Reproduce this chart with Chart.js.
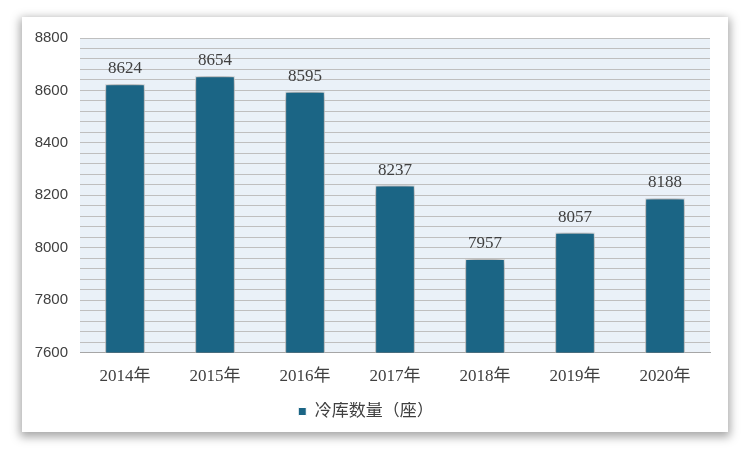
<!DOCTYPE html>
<html><head><meta charset="utf-8">
<script src="https://cdn.jsdelivr.net/npm/chart.js@4"></script>
<style>
html,body{margin:0;padding:0;background:#fff;width:750px;height:451px;overflow:hidden}
#card{position:absolute;left:22px;top:17px;width:706px;height:415px;background:#fff;box-shadow:0 3px 9px 2px rgba(0,0,0,0.35)}
canvas{display:block}
</style></head><body>
<div id="card"><canvas id="c" width="706" height="415"></canvas></div>
<script>
const categories = ['2014年','2015年','2016年','2017年','2018年','2019年','2020年'];
const values = [8624, 8654, 8595, 8237, 7957, 8057, 8188];
const seriesName = '冷库数量（座）';
const yMin = 7600, yMax = 8800;

const bgPlugin = {
  id: 'bg',
  beforeDraw(chart) {
    const {ctx, chartArea: a} = chart;
    ctx.save();
    ctx.fillStyle = '#EAF1F8';
    ctx.fillRect(a.left, a.top, a.right - a.left, a.bottom - a.top);
    ctx.restore();
  }
};
const shadowPlugin = {
  id: 'shadow',
  beforeDatasetsDraw(chart) {
    const ctx = chart.ctx;
    ctx.save();
    ctx.shadowColor = 'rgba(0,0,0,0.6)';
    ctx.shadowBlur = 10;
    ctx.shadowOffsetX = 0;
    ctx.shadowOffsetY = 0;
  },
  afterDatasetsDraw(chart) {
    chart.ctx.restore();
    const ctx = chart.ctx;
    const meta = chart.getDatasetMeta(0);
    ctx.save();
    ctx.font = '17px "Liberation Serif", "Noto Sans CJK SC"';
    ctx.fillStyle = '#404040';
    ctx.textAlign = 'center';
    ctx.textBaseline = 'bottom';
    meta.data.forEach((bar, i) => {
      ctx.fillText(String(values[i]), bar.x, bar.y - 7);
    });
    ctx.restore();
  }
};

new Chart(document.getElementById('c'), {
  type: 'bar',
  data: {
    labels: categories,
    datasets: [{
      label: seriesName,
      data: values,
      backgroundColor: '#1B6585',
      borderColor: '#FFFFFF',
      borderWidth: 1,
      categoryPercentage: 1,
      barPercentage: 0.44
    }]
  },
  options: {
    responsive: false,
    animation: false,
    layout: { padding: { left: 0, right: 18, top: 20, bottom: 2 } },
    plugins: {
      legend: {
        position: 'bottom',
        labels: {
          boxWidth: 8, boxHeight: 8, padding: 1,
          color: '#404040',
          font: { size: 17, family: '"Liberation Serif", "Noto Sans CJK SC"' }
        }
      },
      tooltip: { enabled: false }
    },
    scales: {
      x: {
        afterFit(s) { s.height += 1; },
        grid: { display: false, drawTicks: false },
        border: { color: '#A6A6A6' },
        ticks: { color: '#404040', padding: 14, font: { size: 17, family: '"Liberation Serif", "Noto Sans CJK SC"' } }
      },
      y: {
        min: yMin, max: yMax,
        afterFit(s) { s.width = 58; },
        grid: { color: '#BFBFBF', lineWidth: 1, drawTicks: false },
        border: { display: false },
        ticks: {
          stepSize: 40, padding: 12, color: '#404040',
          font: { size: 15, family: '"Liberation Sans"' },
          autoSkip: false,
          callback: v => (v % 200 === 0 ? String(v) : '')
        }
      }
    }
  },
  plugins: [bgPlugin, shadowPlugin]
});
</script>
</body></html>
